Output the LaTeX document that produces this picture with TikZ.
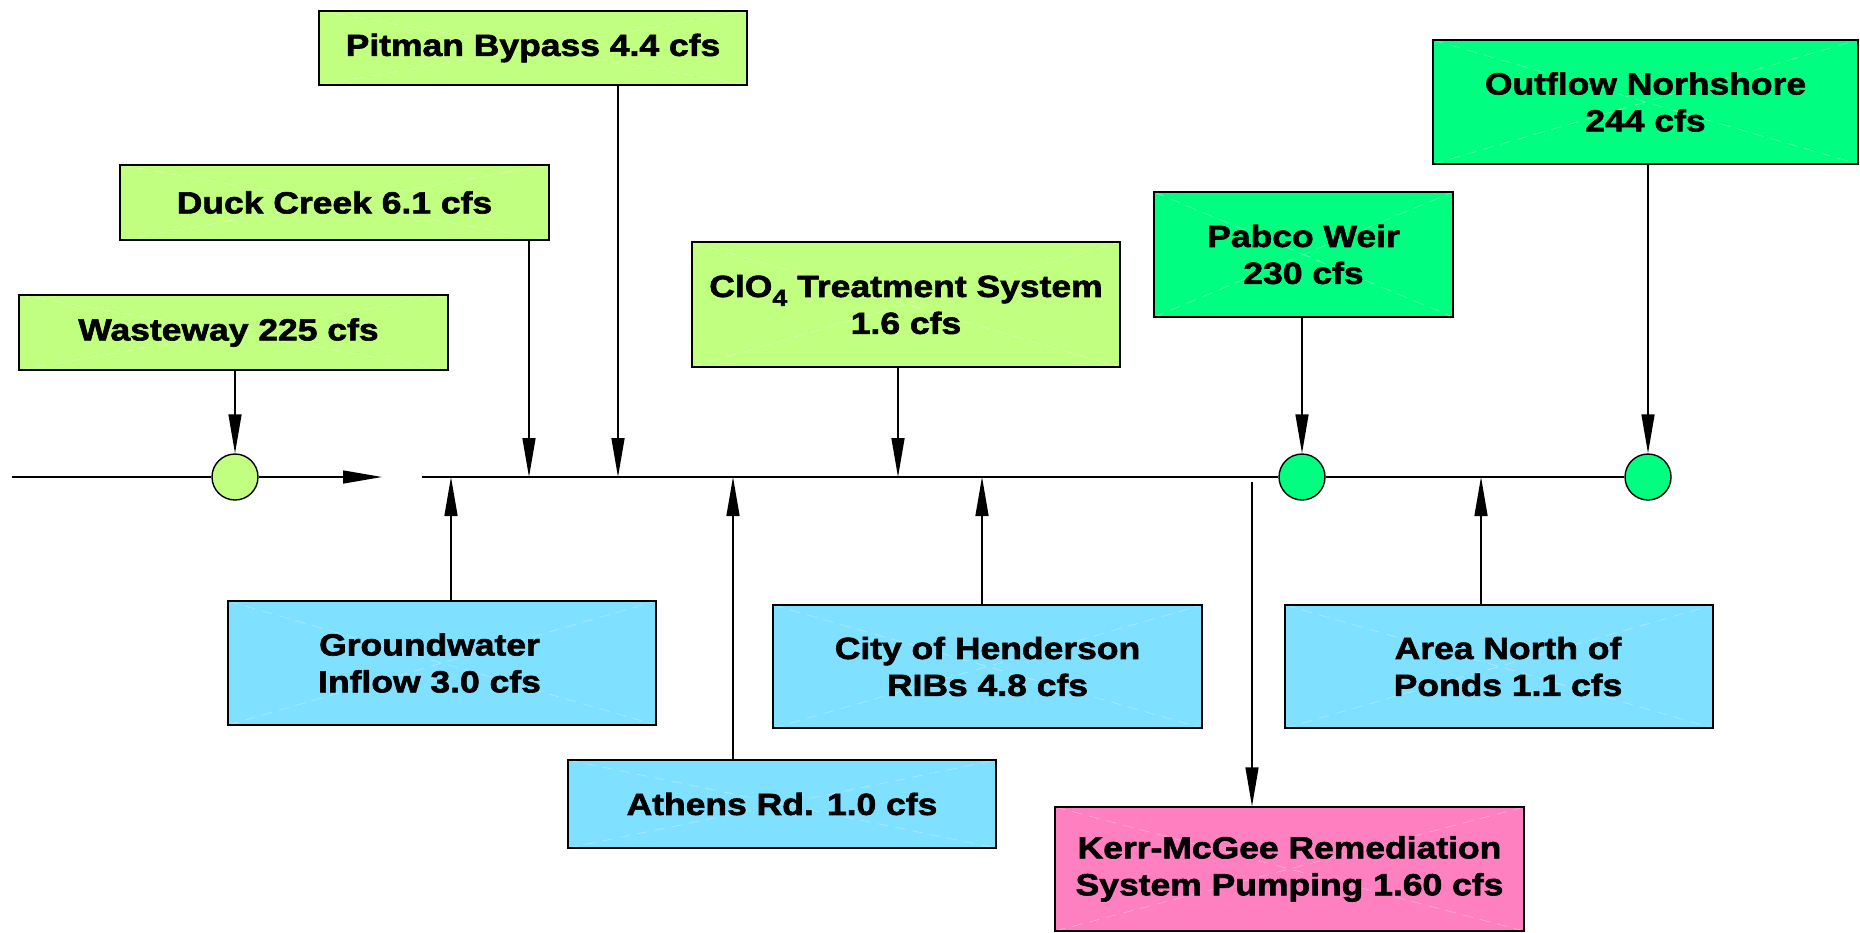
\documentclass[tikz,border=0pt]{standalone}
\usepackage{fontspec}
\newfontfamily\boxfont{Liberation Sans}[FakeStretch=1.16,BoldFeatures={FakeBold=2}]
\usepackage{tikz}
\usetikzlibrary{arrows.meta}
\definecolor{flowlime}{HTML}{C0FF80}
\definecolor{flowgreen}{HTML}{00FF80}
\definecolor{flowblue}{HTML}{80E0FF}
\definecolor{flowpink}{HTML}{FF80C0}
\newcommand{\lowfour}{\raisebox{-.55ex}{\fontsize{6.6}{7}\selectfont 4}}

\begin{document}
\begin{tikzpicture}[line width=.4pt,
  font=\boxfont\bfseries\fontsize{8.7}{10.5}\selectfont,
  flow/.style={-{Triangle[length=.39cm,width=.13cm]}},
  src/.style={draw=black,rectangle,align=center,inner sep=2pt,
    minimum width=4.28cm,minimum height=.75cm,
    path picture={\draw[white,opacity=.35,densely dashed,line width=.2pt]
      (path picture bounding box.south west)--(path picture bounding box.north east)
      (path picture bounding box.north west)--(path picture bounding box.south east);}},
  inlime/.style={src,fill=flowlime},
  ingreen/.style={src,fill=flowgreen},
  inblue/.style={src,fill=flowblue},
  outpink/.style={src,fill=flowpink},
  gauge/.style={circle,draw=black,inner sep=0pt,minimum size=.46cm}]
\path[use as bounding box] (0,0) rectangle (18.6,-9.32);
\fill[white] (0,0) rectangle (18.6,-9.32);

% inflows from above
\node[inlime,minimum width=4.29cm] (waste) at (2.335,-3.325) {Wasteway 225 cfs\hspace*{.1cm}};
\node[inlime,minimum width=4.29cm] (duck) at (3.345,-2.025) {Duck Creek 6.1 cfs};
\node[inlime,minimum height=.74cm] (pitman) at (5.33,-.48) {Pitman Bypass 4.4 cfs};
\node[inlime,minimum height=1.25cm] (clo) at (9.06,-3.045) {ClO\lowfour\ Treatment System\\1.6 cfs};
\node[ingreen,minimum width=2.99cm,minimum height=1.25cm] (pabco) at (13.035,-2.545) {Pabco Weir\\230 cfs};
\node[ingreen,minimum width=4.25cm,minimum height=1.24cm] (outflow) at (16.455,-1.02) {Outflow Norhshore\\244 cfs};

% inflows from below
\node[inblue,minimum height=1.24cm] (ground) at (4.42,-6.63) {Groundwater\hspace*{.25cm}\\Inflow 3.0 cfs\hspace*{.25cm}};
\node[inblue,minimum height=.88cm] (athens) at (7.82,-8.04) {Athens Rd. 1.0 cfs};
\node[inblue,minimum width=4.29cm,minimum height=1.23cm] (hend) at (9.875,-6.665) {City of Henderson\\RIBs 4.8 cfs};
\node[inblue,minimum height=1.23cm] (north) at (14.99,-6.665) {\hspace*{.18cm}Area North of\\\hspace*{.18cm}Ponds 1.1 cfs};

% pumping out
\node[outpink,minimum width=4.69cm,minimum height=1.24cm] (kerr) at (12.895,-8.69) {Kerr-McGee Remediation\\System Pumping 1.60 cfs};

% the wash
\node[gauge,fill=flowlime] (c1) at (2.35,-4.77) {};
\node[gauge,fill=flowgreen] (c2) at (13.02,-4.77) {};
\node[gauge,fill=flowgreen] (c3) at (16.48,-4.77) {};
\coordinate (wstart) at (.12,-4.77);
\coordinate (wgap) at (3.82,-4.77);
\coordinate (wmain) at (4.22,-4.77);
\draw (wstart) -- (c1);
\draw[flow] (c1) -- (wgap);
\draw (wmain) -- (c2) -- (c3);

\coordinate (jduck) at (5.29,-4.77);
\coordinate (jpit) at (6.18,-4.77);
\coordinate (jclo) at (8.98,-4.77);
\coordinate (jground) at (4.51,-4.77);
\coordinate (jathens) at (7.33,-4.77);
\coordinate (jhend) at (9.82,-4.77);
\coordinate (jnorth) at (14.81,-4.77);
\coordinate (jkerr) at (12.52,-4.82);

\draw[flow] (waste.south -| c1) -- (c1.north);
\draw[flow] (duck.south -| jduck) -- (jduck);
\draw[flow] (pitman.south -| jpit) -- (jpit);
\draw[flow] (clo.south -| jclo) -- (jclo);
\draw[flow] (pabco.south -| c2) -- (c2.north);
\draw[flow] (outflow.south -| c3) -- (c3.north);
\draw[flow] (ground.north -| jground) -- (jground);
\draw[flow] (athens.north -| jathens) -- (jathens);
\draw[flow] (hend.north -| jhend) -- (jhend);
\draw[flow] (north.north -| jnorth) -- (jnorth);
\draw[flow] (jkerr) -- (kerr.north -| jkerr);
\end{tikzpicture}
\end{document}
